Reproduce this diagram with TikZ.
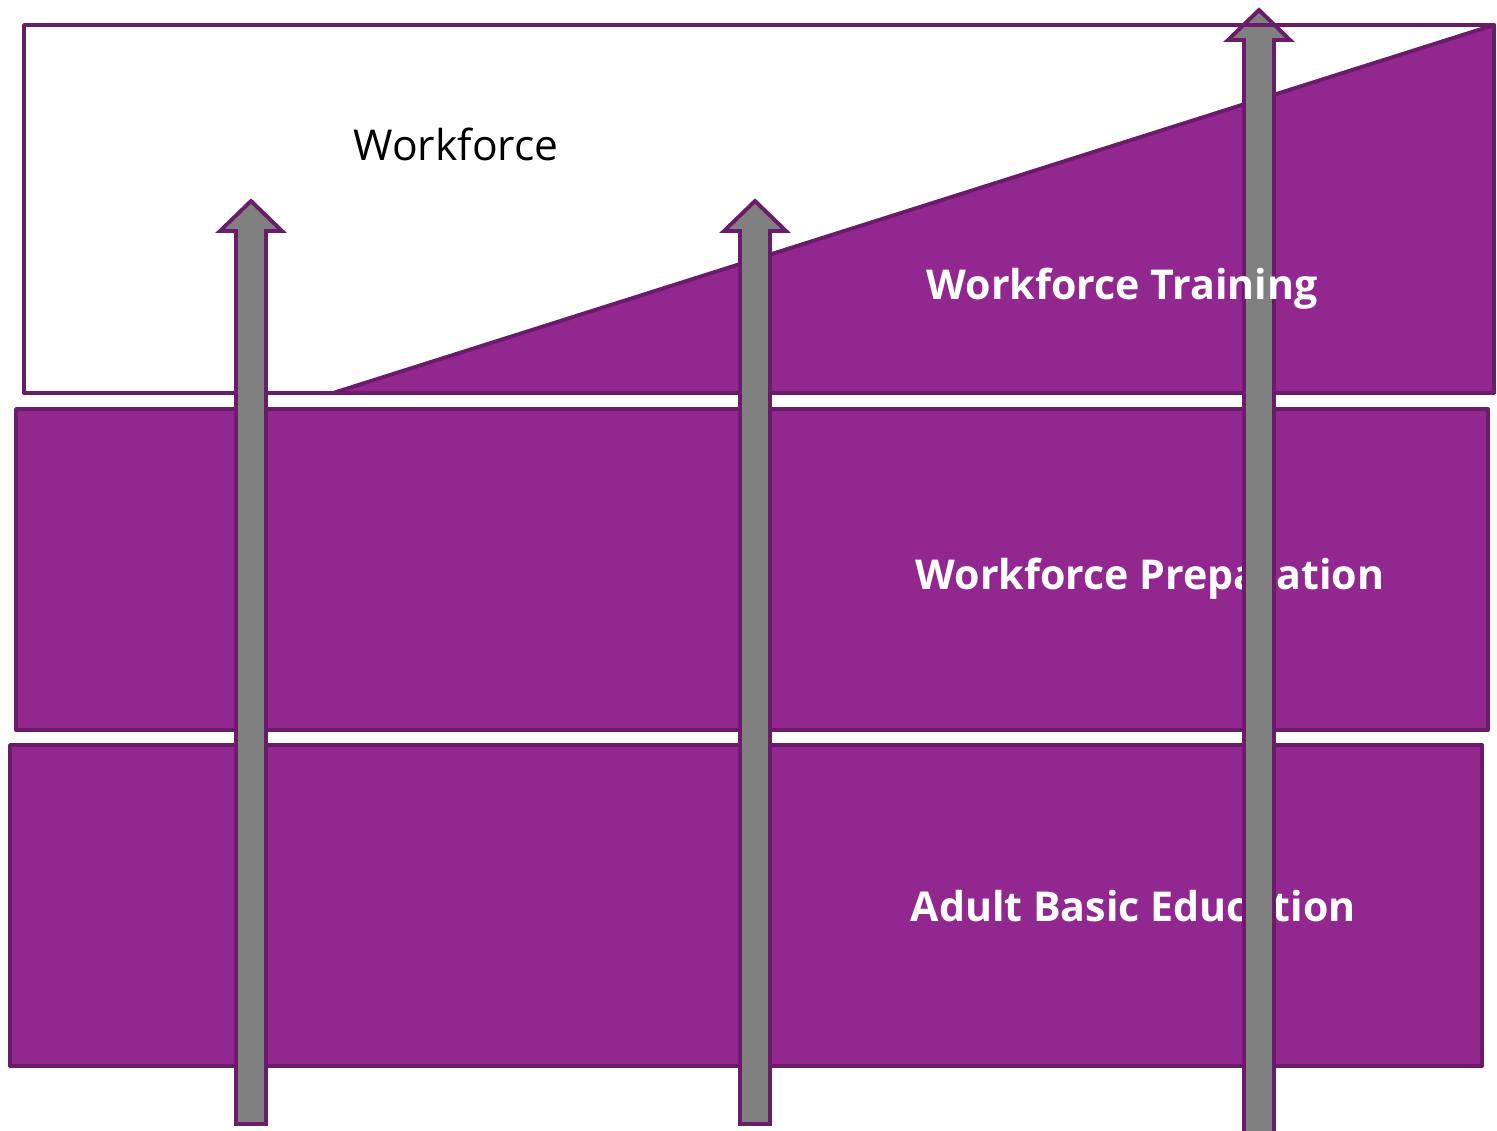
\documentclass[tikz,border=0pt]{standalone}
\usepackage{fontspec}
\setmainfont{Open Sans}

\definecolor{plum}{HTML}{92278F}
\definecolor{plumline}{HTML}{6A1B6A}
\definecolor{shaft}{HTML}{808080}

\tikzset{
  band/.style={draw=plumline,line width=1.1pt,fill=plum},
  uparrow/.style={draw=plumline,line width=1.1pt,fill=shaft,line join=miter},
  bandlabel/.style={anchor=west,text=white,inner sep=0pt,
    font=\bfseries\fontsize{11.7}{14}\selectfont},
}

% block arrow: [options]{centre x}{tip y}{head base y}{tail y}
\newcommand{\blockarrow}[5][]{%
  \draw[uparrow,#1] (#2-15,#5) -- (#2-15,#4) -- (#2-31,#4) -- (#2,#3)
    -- (#2+31,#4) -- (#2+15,#4) -- (#2+15,#5) -- cycle;}

\begin{document}
\begin{tikzpicture}[x=0.01cm,y=-0.01cm,line join=round]
\useasboundingbox (0,0) rectangle (1497,1130);

% top level: the workforce, with the training wedge rising to the right
\draw[draw=plumline,line width=1.1pt,fill=white] (24,25) rectangle (1494,393);
\draw[band] (333,393) -- (1494,25) -- (1494,393) -- cycle;
\node[anchor=center,inner sep=0pt,font=\fontsize{12.1}{14}\selectfont] (workforce) at (456,144) {Workforce};

% the two lower bands
\draw[band] (16,409) rectangle (1488,730);
\draw[band] (10,745) rectangle (1482,1066);
\node[bandlabel] (prep) at (915,579) {Workforce Preparation};
\node[bandlabel] (abe) at (910,906) {Adult Basic Education};

% three pathways up through the levels
\blockarrow{251}{201}{231}{1124}
\blockarrow{755}{201}{231}{1124}
\blockarrow{1259}{10}{40}{1140}

% top edge runs over the tall arrow head
\draw[plumline,line width=1.1pt] (24,25) -- (1494,25);
\node[bandlabel] (training) at (926,289) {Workforce Training};

\end{tikzpicture}
\end{document}
